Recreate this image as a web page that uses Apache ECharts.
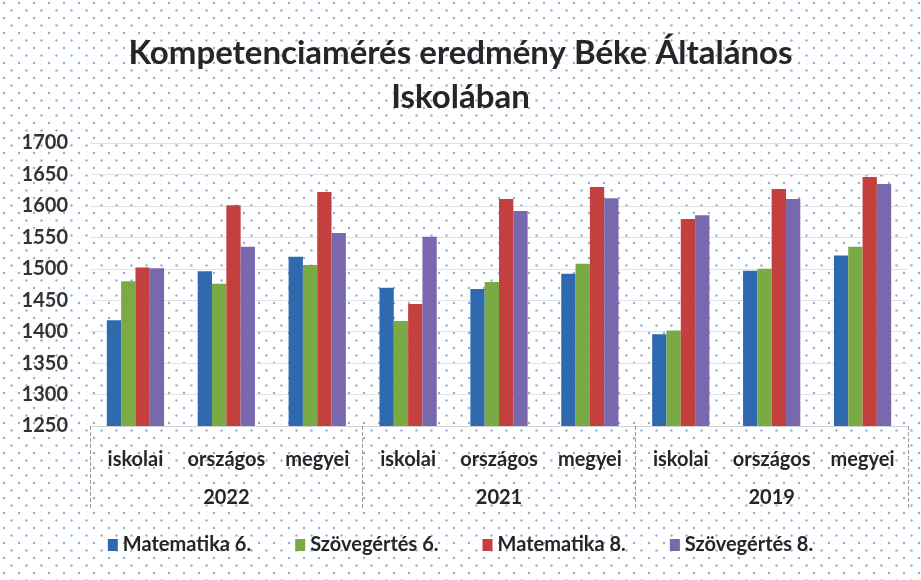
<!DOCTYPE html>
<html>
<head>
<meta charset="utf-8">
<script src="https://cdn.jsdelivr.net/npm/echarts@6/dist/echarts.min.js"></script>
<style>
  html, body { margin: 0; padding: 0; background: #fff; }
  #main { width: 921px; height: 580px; }
</style>
</head>
<body>
<div id="main"></div>
<script>
// adatok
var kategoriak = ['iskolai', 'országos', 'megyei', 'iskolai', 'országos', 'megyei', 'iskolai', 'országos', 'megyei'];
var evek = ['2022', '2021', '2019'];
var matek6 = [1418, 1496, 1519, 1470, 1468, 1492, 1396, 1497, 1521];
var szoveg6 = [1480, 1476, 1506, 1417, 1479, 1508, 1402, 1500, 1535];
var matek8 = [1502, 1601, 1622, 1444, 1611, 1630, 1579, 1627, 1646];
var szoveg8 = [1501, 1535, 1557, 1551, 1592, 1612, 1585, 1611, 1635];

// pöttyös háttér (szkennelt papír)
var minta = document.createElement('canvas');
minta.width = 15;
minta.height = 15;
var ctx = minta.getContext('2d');
ctx.fillStyle = '#fff';
ctx.fillRect(0, 0, 15, 15);
ctx.fillStyle = '#8eaed8';
ctx.beginPath(); ctx.arc(4, 3, 1.2, 0, Math.PI * 2); ctx.fill();
ctx.beginPath(); ctx.arc(11.5, 10.5, 1.2, 0, Math.PI * 2); ctx.fill();

var betu = 'Lato, "Open Sans", sans-serif';
var myChart = echarts.init(document.getElementById('main'));

var option = {
  backgroundColor: { image: minta, repeat: 'repeat' },
  color: ['#2f6aae', '#7aaa44', '#c3403f', '#7a68ae'],
  textStyle: { fontFamily: betu },
  title: {
    text: 'Kompetenciamérés eredmény Béke Általános\nIskolában',
    left: 'center',
    top: 26,
    textStyle: { fontSize: 33, fontWeight: 'bold', color: '#262626', lineHeight: 44, fontFamily: betu }
  },
  legend: {
    data: ['Matematika 6.', 'Szövegértés 6.', 'Matematika 8.', 'Szövegértés 8.'],
    bottom: 20,
    left: 'center',
    itemWidth: 10,
    itemHeight: 12,
    itemGap: 44,
    icon: 'rect',
    textStyle: { fontSize: 20, fontWeight: 'bold', color: '#262626', fontFamily: betu }
  },
  grid: { left: 90, right: 13, top: 143, bottom: 154 },
  xAxis: [
    {
      type: 'category',
      data: kategoriak,
      axisLine: { show: true, lineStyle: { color: '#d0d0d0' } },
      axisTick: { show: false },
      axisLabel: { interval: 0, fontSize: 20, fontWeight: 'bold', color: '#262626', margin: 24, fontFamily: betu }
    },
    {
      type: 'category',
      data: evek,
      position: 'bottom',
      axisLine: { show: false },
      axisTick: { show: true, length: 84, lineStyle: { color: '#999', type: 'dashed' } },
      axisLabel: { interval: 0, fontSize: 20, fontWeight: 'bold', color: '#262626', margin: 62, fontFamily: betu }
    }
  ],
  yAxis: {
    type: 'value',
    min: 1250,
    max: 1700,
    interval: 50,
    axisLine: { show: false },
    axisTick: { show: false },
    axisLabel: {
      fontSize: 20, fontWeight: 'bold', color: '#333', margin: 22, fontFamily: betu,
      formatter: function (v) { return String(v); }
    },
    splitLine: { lineStyle: { color: '#e2e2e2' } }
  },
  series: [
    { name: 'Matematika 6.', type: 'bar', data: matek6, barGap: '0%', barCategoryGap: '37%' },
    { name: 'Szövegértés 6.', type: 'bar', data: szoveg6, barGap: '0%', barCategoryGap: '37%' },
    { name: 'Matematika 8.', type: 'bar', data: matek8, barGap: '0%', barCategoryGap: '37%' },
    { name: 'Szövegértés 8.', type: 'bar', data: szoveg8, barGap: '0%', barCategoryGap: '37%' }
  ]
};

myChart.setOption(option);
window.onresize = function() {
  myChart.resize();
};
</script>
</body>
</html>
